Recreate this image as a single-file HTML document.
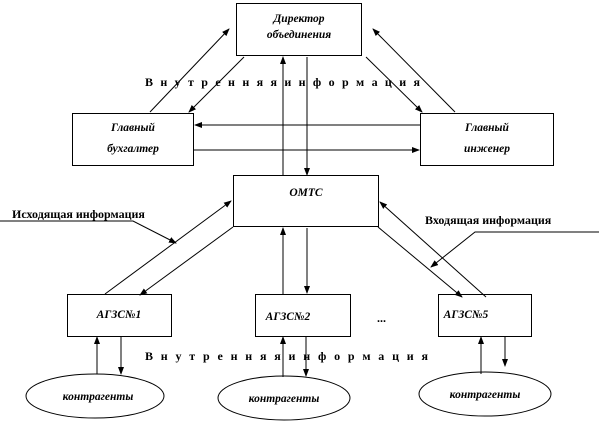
<!DOCTYPE html>
<html><head><meta charset="utf-8"><style>
html,body{margin:0;padding:0;background:#fff;}
svg{display:block;}
.t{font-family:"Liberation Serif",serif;font-weight:bold;font-style:italic;font-size:11.5px;fill:#000;}
.s{font-family:"Liberation Serif",serif;font-weight:bold;font-size:12px;fill:#000;}
</style></head><body>
<svg width="612" height="422" viewBox="0 0 612 422" xmlns="http://www.w3.org/2000/svg">
<defs><marker id="a" markerWidth="8" markerHeight="8" refX="7" refY="3" orient="auto" markerUnits="userSpaceOnUse"><path d="M0,0 L8,3 L0,6 z" fill="#000"/></marker></defs>
<g fill="#fff" stroke="#000" stroke-width="1">
<rect x="236.5" y="3.5" width="125" height="52"/>
<rect x="72.5" y="113.5" width="121" height="52"/>
<rect x="420.5" y="113.5" width="133" height="52"/>
<rect x="233.5" y="175.5" width="145" height="51"/>
<rect x="67.5" y="294.5" width="104" height="42"/>
<rect x="255.5" y="294.5" width="95" height="42"/>
<rect x="438.5" y="294.5" width="93" height="42"/>
<ellipse cx="95" cy="396" rx="69" ry="22"/>
<ellipse cx="284" cy="398" rx="66" ry="22"/>
<ellipse cx="485" cy="394" rx="66" ry="22"/>
</g>
<g stroke="#000" stroke-width="1" fill="none" marker-end="url(#a)">
<line x1="150" y1="112" x2="229" y2="29"/>
<line x1="244" y1="57" x2="189" y2="112"/>
<line x1="366" y1="57" x2="422" y2="112"/>
<line x1="455" y1="112" x2="373" y2="29"/>
<line x1="283" y1="175" x2="283" y2="57"/>
<line x1="307" y1="57" x2="307" y2="175"/>
<line x1="420" y1="125" x2="195" y2="125"/>
<line x1="193" y1="150" x2="419" y2="150"/>
<line x1="105" y1="294" x2="231" y2="201"/>
<line x1="233" y1="227" x2="140" y2="295"/>
<line x1="283" y1="294" x2="283" y2="228"/>
<line x1="307" y1="228" x2="307" y2="293"/>
<line x1="378" y1="227" x2="462" y2="297"/>
<line x1="486" y1="297" x2="380" y2="202"/>
<polyline points="0,221 133,221 176,243"/>
<polyline points="599,232 475,232 431,267"/>
<line x1="97" y1="374" x2="97" y2="337"/>
<line x1="121" y1="337" x2="121" y2="374"/>
<line x1="283" y1="377" x2="283" y2="337"/>
<line x1="306" y1="337" x2="306" y2="376"/>
<line x1="481" y1="374" x2="481" y2="337"/>
<line x1="505" y1="337" x2="505" y2="366"/>
</g>
<text class="t" x="299" y="22" text-anchor="middle">Директор</text>
<text class="t" x="299" y="38" text-anchor="middle">объединения</text>
<text class="t" x="133" y="131" text-anchor="middle">Главный</text>
<text class="t" x="133" y="152" text-anchor="middle">бухгалтер</text>
<text class="t" x="487" y="131" text-anchor="middle">Главный</text>
<text class="t" x="487" y="152" text-anchor="middle">инженер</text>
<text class="t" x="306" y="196" text-anchor="middle">ОМТС</text>
<text class="t" x="119" y="318" text-anchor="middle">АГЗС№1</text>
<text class="t" x="288" y="320" text-anchor="middle">АГЗС№2</text>
<text class="t" x="466" y="318" text-anchor="middle">АГЗС№5</text>
<text class="s" x="377" y="322" font-size="16">...</text>
<text class="t" x="98" y="400" text-anchor="middle" font-size="10.5">контрагенты</text>
<text class="t" x="284" y="402" text-anchor="middle" font-size="10.5">контрагенты</text>
<text class="t" x="485" y="398" text-anchor="middle" font-size="10.5">контрагенты</text>
<text class="s" x="145" y="86" textLength="275" lengthAdjust="spacing">В н у т р е н н я я    и н ф о р м а ц и я</text>
<text class="s" x="145" y="360" textLength="283" lengthAdjust="spacing">В н у т р е н н я я    и н ф о р м а ц и я</text>
<text class="s" x="12" y="218" font-size="10.5">Исходящая информация</text>
<text class="s" x="425" y="224" font-size="10.5">Входящая информация</text>
</svg>
</body></html>
